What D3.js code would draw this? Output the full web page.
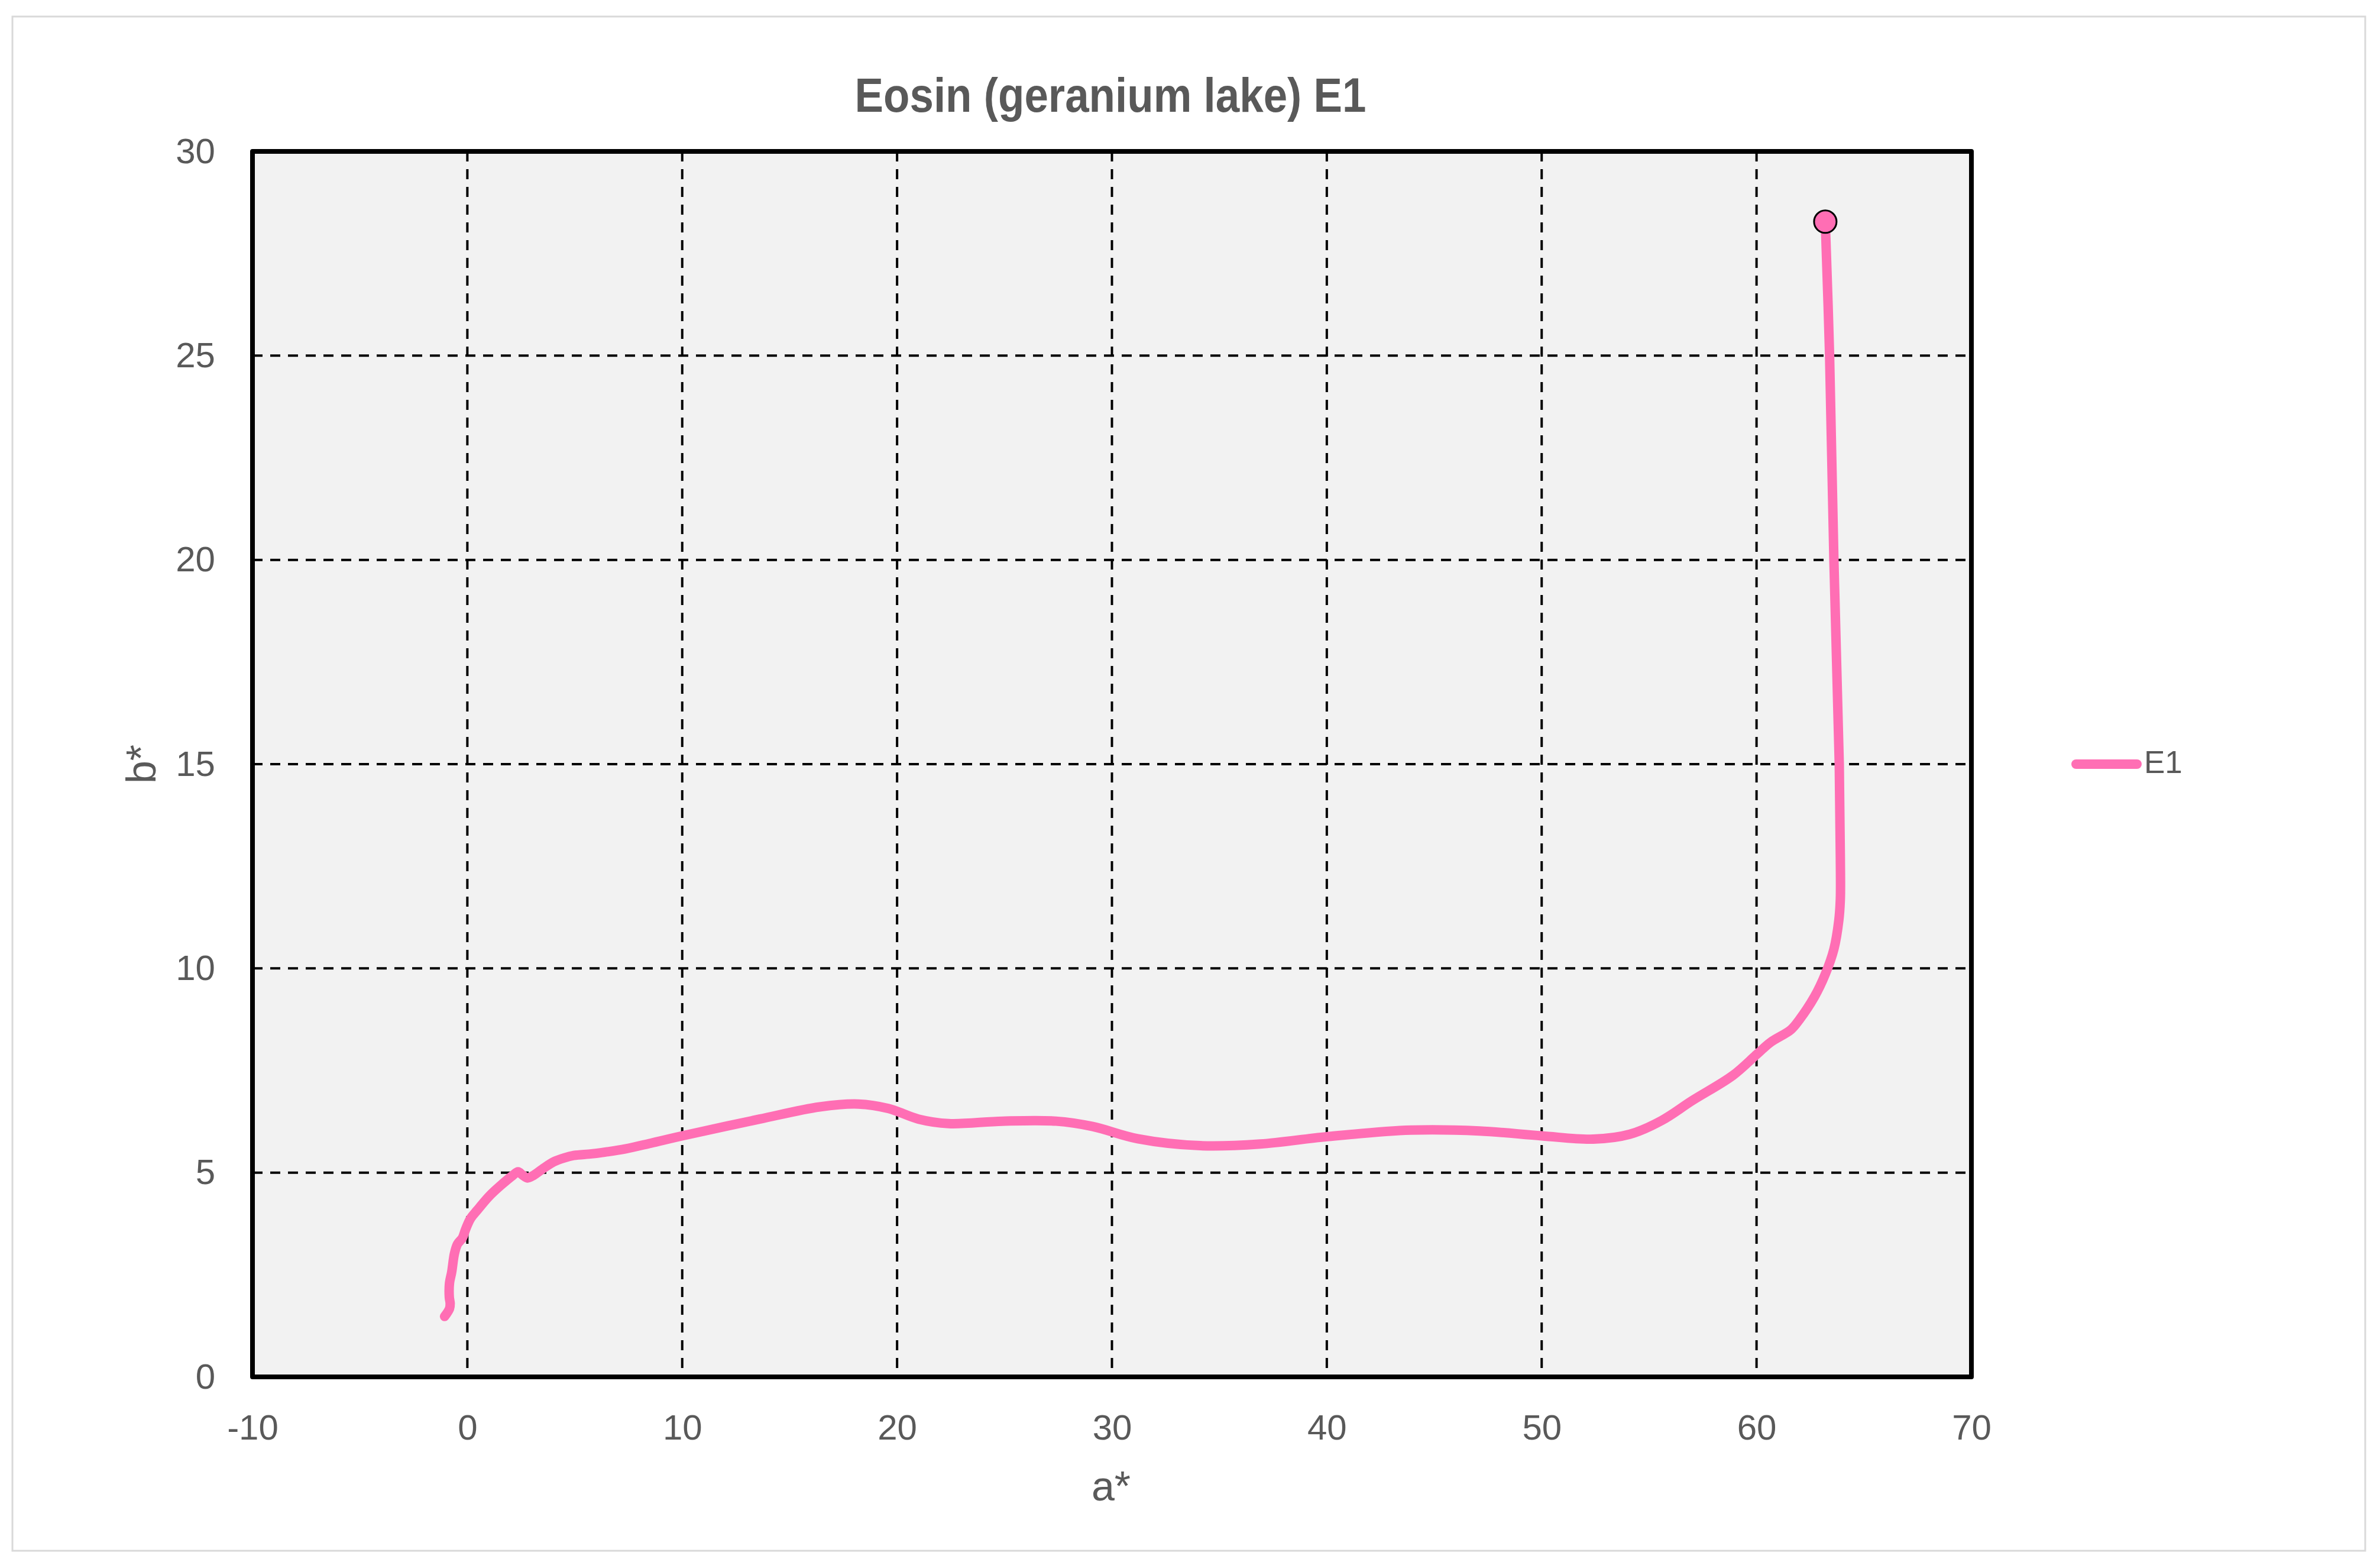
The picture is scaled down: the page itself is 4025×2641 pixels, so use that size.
<!DOCTYPE html>
<html>
<head>
<meta charset="utf-8">
<script src="https://cdn.jsdelivr.net/npm/d3@7"></script>
<style>
  body { margin: 0; background: #fff; }
  text { font-family: "Liberation Sans", Arial, sans-serif; fill: #595959; }
</style>
</head>
<body>
<svg id="chart" width="4025" height="2641"></svg>
<script>
const chartTitle = 'Eosin (geranium lake) E1';
const seriesName = 'E1';
const xTicks = [-10, 0, 10, 20, 30, 40, 50, 60, 70];
const yTicks = [0, 5, 10, 15, 20, 25, 30];

// a* and b* values, in drawing order
const aVals = [-1.06, -0.83, -0.80, -0.84, -0.83, -0.73, -0.60, -0.46, -0.23, -0.09, 0.14, 0.46, 1.01, 1.56, 2.11, 2.36, 2.57, 2.80, 3.07, 3.58, 4.04, 4.50, 4.95, 5.78, 6.51, 7.34, 8.53,
  10, 13.6, 16.4, 18.2, 19.6, 21.0, 22.4, 24.9, 27.4, 29.1, 31.2, 34.1, 36.9, 40, 43.9, 47.1, 50, 52.4, 54.1, 55.6, 57.0,
  58.9, 60, 60.65, 61.6, 62.0, 62.7, 63.2, 63.6, 63.83, 63.9, 63.9, 63.85, 63.6, 63.4, 63.2];
const bVals = [1.48, 1.67, 1.80, 1.95, 2.30, 2.56, 3.02, 3.25, 3.40, 3.60, 3.87, 4.08, 4.42, 4.69, 4.93, 5.02, 4.94, 4.87, 4.93, 5.12, 5.27, 5.36, 5.42, 5.46, 5.51, 5.58, 5.72,
  5.90, 6.31, 6.61, 6.68, 6.57, 6.31, 6.20, 6.26, 6.26, 6.13, 5.83, 5.66, 5.70, 5.88, 6.04, 6.02, 5.90, 5.82, 5.94, 6.28, 6.76,
  7.38, 7.89, 8.19, 8.50, 8.75, 9.31, 9.86, 10.47, 11.18, 11.7, 12.7, 15, 20, 25, 28.28];

const pink = '#ff6eb4';
const svg = d3.select('#chart');
const margin = { left: 427, right: 3334, top: 256, bottom: 2328 };

// outer chart frame
svg.append('rect')
  .attr('x', 21).attr('y', 28).attr('width', 3979).attr('height', 2594)
  .attr('fill', '#fff').attr('stroke', '#d9d9d9').attr('stroke-width', 3);

const x = d3.scaleLinear().domain([-10, 70]).range([margin.left, margin.right]);
const y = d3.scaleLinear().domain([0, 30]).range([margin.bottom, margin.top]);

// plot background
svg.append('rect')
  .attr('x', x(-10)).attr('y', y(30))
  .attr('width', x(70) - x(-10)).attr('height', y(0) - y(30))
  .attr('fill', '#f2f2f2');

// dashed grid
const grid = svg.append('g').attr('stroke', '#000').attr('stroke-width', 4).attr('stroke-dasharray', '17,13');
grid.selectAll('.vg').data(xTicks.slice(1, -1)).enter().append('line')
  .attr('x1', d => x(d)).attr('x2', d => x(d))
  .attr('y1', y(30)).attr('y2', y(0));
grid.selectAll('.hg').data(yTicks.slice(1, -1)).enter().append('line')
  .attr('x1', x(-10)).attr('x2', x(70))
  .attr('y1', d => y(d)).attr('y2', d => y(d));

// axes (labels only), plain hyphen for negatives like the original
const fmt = d => String(d);
const xAxis = svg.append('g')
  .attr('transform', `translate(0,${y(0)})`)
  .call(d3.axisBottom(x).tickValues(xTicks).tickFormat(fmt).tickSize(0).tickPadding(63));
const yAxis = svg.append('g')
  .attr('transform', `translate(${x(-10)},0)`)
  .call(d3.axisLeft(y).tickValues(yTicks).tickFormat(fmt).tickSize(0).tickPadding(63));
[xAxis, yAxis].forEach(a => {
  a.select('.domain').remove();
  a.selectAll('text').attr('font-size', 60).attr('fill', '#595959')
    .style('font-family', '"Liberation Sans", Arial, sans-serif');
});

// plot border
svg.append('rect')
  .attr('x', x(-10)).attr('y', y(30))
  .attr('width', x(70) - x(-10)).attr('height', y(0) - y(30))
  .attr('fill', 'none').attr('stroke', '#000').attr('stroke-width', 8)
  .attr('stroke-linejoin', 'round');

// series line
const pts = aVals.map((a, i) => [a, bVals[i]]);
const line = d3.line().x(d => x(d[0])).y(d => y(d[1])).curve(d3.curveCatmullRom.alpha(0.5));
svg.append('path')
  .datum(pts)
  .attr('d', line)
  .attr('fill', 'none')
  .attr('stroke', pink)
  .attr('stroke-width', 16)
  .attr('stroke-linecap', 'round')
  .attr('stroke-linejoin', 'round');

// end marker
const last = pts[pts.length - 1];
svg.append('circle')
  .attr('cx', x(last[0])).attr('cy', y(last[1])).attr('r', 19)
  .attr('fill', pink).attr('stroke', '#000').attr('stroke-width', 3);

// title (condensed to match the narrow bold face)
svg.append('text')
  .attr('x', 1878).attr('y', 189)
  .attr('text-anchor', 'middle')
  .attr('font-size', 82).attr('font-weight', 'bold')
  .attr('textLength', 865).attr('lengthAdjust', 'spacingAndGlyphs')
  .style('font-family', '"Liberation Sans Narrow", "Arial Narrow", "Liberation Sans", sans-serif')
  .text(chartTitle);

// axis titles
svg.append('text')
  .attr('x', 1879).attr('y', 2537)
  .attr('text-anchor', 'middle')
  .attr('font-size', 70)
  .text('a*');
svg.append('text')
  .attr('transform', 'translate(263,1292) rotate(-90)')
  .attr('text-anchor', 'middle')
  .attr('font-size', 70)
  .text('b*');

// legend
const legend = svg.append('g');
legend.append('line')
  .attr('x1', 3511).attr('x2', 3614).attr('y1', 1292).attr('y2', 1292)
  .attr('stroke', pink).attr('stroke-width', 16).attr('stroke-linecap', 'round');
legend.append('text')
  .attr('x', 3626).attr('y', 1307)
  .attr('font-size', 53)
  .text(seriesName);
</script>
</body>
</html>
